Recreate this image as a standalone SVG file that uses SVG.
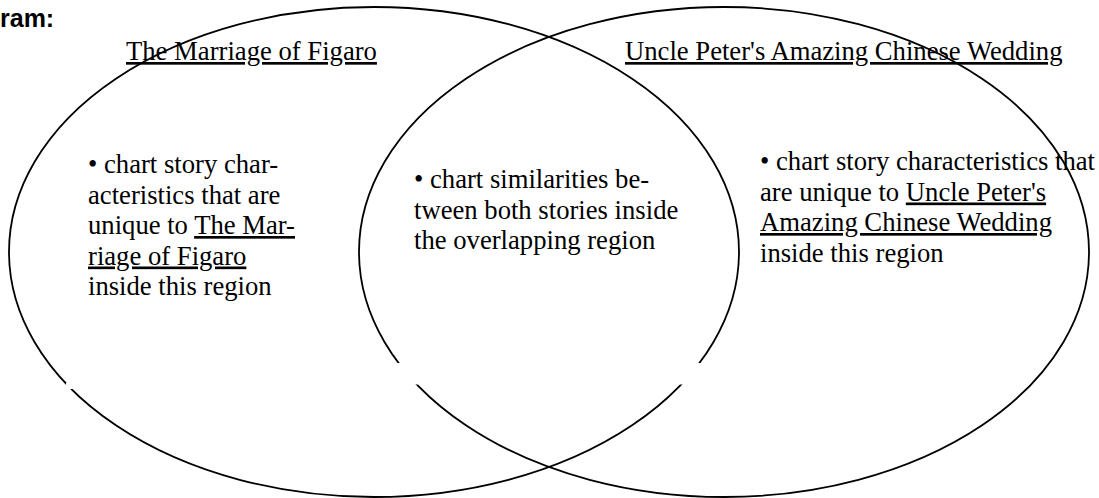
<svg xmlns="http://www.w3.org/2000/svg" width="1099" height="498" viewBox="0 0 1099 498">
<style>
.ring{fill:none;stroke:#000;stroke-width:1.8}
.t{font-family:"Liberation Serif","Times New Roman",serif;font-size:26.67px;fill:#000}
.u{text-decoration:underline}
.h{font-family:"Liberation Sans",Arial,sans-serif;font-size:25px;font-weight:bold;fill:#000}
</style>
<rect width="1099" height="498" fill="#fff"/>
<text class="h" x="0" y="27">ram:</text>
<g id="set-figaro">
<ellipse class="ring" cx="374" cy="252" rx="365" ry="245"/>
</g>
<g id="set-uncle-peter">
<ellipse class="ring" cx="724" cy="252" rx="365" ry="245"/>
</g>
<g id="gaps">
<rect x="67" y="363" width="638" height="21.5" fill="#fff"/>
<rect x="66" y="383" width="7" height="6" fill="#fff"/>
</g>
<g id="title-figaro">
<text class="t u" x="126" y="60">The Marriage of Figaro</text>
</g>
<g id="title-uncle-peter">
<text class="t u" x="625" y="60">Uncle Peter's Amazing Chinese Wedding</text>
</g>
<g id="text-left">
<text class="t" x="88" y="173">• chart story char-</text>
<text class="t" x="88" y="203.5">acteristics that are</text>
<text class="t" x="88" y="234">unique to <tspan class="u">The Mar-</tspan></text>
<text class="t u" x="88" y="264.5">riage of Figaro</text>
<text class="t" x="88" y="295">inside this region</text>
</g>
<g id="text-center">
<text class="t" x="414" y="188">• chart similarities be-</text>
<text class="t" x="414" y="218.5">tween both stories inside</text>
<text class="t" x="414" y="249">the overlapping region</text>
</g>
<g id="text-right">
<text class="t" x="760" y="170">• chart story characteristics that</text>
<text class="t" x="760" y="200.5">are unique to <tspan class="u">Uncle Peter's</tspan></text>
<text class="t u" x="760" y="231">Amazing Chinese Wedding</text>
<text class="t" x="760" y="261.5">inside this region</text>
</g>
</svg>
